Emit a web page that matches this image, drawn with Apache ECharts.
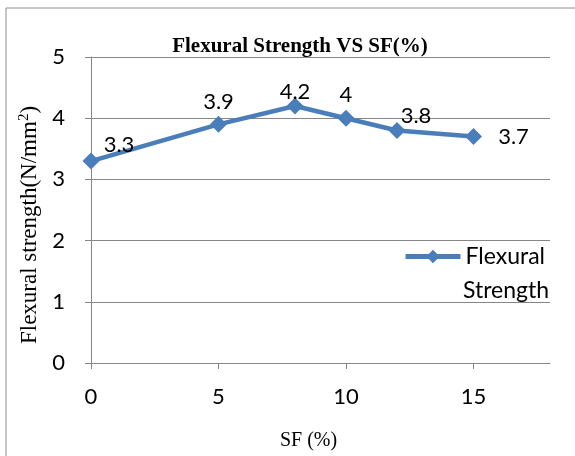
<!DOCTYPE html>
<html><head><meta charset="utf-8">
<script src="https://cdn.jsdelivr.net/npm/echarts@6/dist/echarts.min.js"></script>
<style>html,body{margin:0;padding:0;background:#fff}#c{width:575px;height:456px}</style>
</head><body><div id="c"></div>
<script>
const sfValues = [0, 5, 8, 10, 12, 15];
const strength = [3.3, 3.9, 4.2, 4, 3.8, 3.7];
const xTicks = [0, 5, 10, 15];
const yTicks = [0, 1, 2, 3, 4, 5];
const labelOffsets = [[28, 8], [0, 2], [0, 10], [0, 1], [19, 10], [40, 25]];

const chart = echarts.init(document.getElementById('c'), null, {renderer: 'canvas'});
const blue = '#4a7ebb';
const grey = '#868686';
const sans = 'Lato, "Open Sans", sans-serif';
const serif = '"Liberation Serif", "DejaVu Serif", serif';

chart.setOption({
  animation: false,
  backgroundColor: '#fff',
  graphic: [{
    type: 'rect', shape: {x: 6, y: 8, width: 700, height: 600},
    style: {fill: 'none', stroke: '#8c8c8c', lineWidth: 1}, silent: true
  }, {
    type: 'text', left: 463, top: 279, silent: true,
    style: {text: 'Strength', fontFamily: sans, fontSize: 23, fill: '#000'}
  }],
  title: {
    text: 'Flexural Strength VS SF(%)', left: 295, top: 31, textAlign: 'center',
    textStyle: {fontFamily: serif, fontWeight: 'bold', fontSize: 21, color: '#000'}
  },
  grid: {left: 91, top: 57, right: 25, bottom: 93, containLabel: false},
  legend: {
    left: 403, top: 245, padding: 0, itemWidth: 55, itemHeight: 17, itemGap: 4,
    data: ['Flexural Strength'],
    formatter: () => 'Flexural',
    lineStyle: {width: 5, color: blue},
    textStyle: {fontFamily: sans, fontSize: 23, color: '#000'}
  },
  xAxis: {
    type: 'value', min: 0, max: 18, interval: 5,
    name: 'SF (%)', nameLocation: 'middle', nameGap: 68,
    nameTextStyle: {fontFamily: serif, fontSize: 20, color: '#000', padding: [0, 24, 0, 0]},
    axisLine: {show: true, lineStyle: {color: grey, width: 1}},
    axisTick: {show: true, length: 6, lineStyle: {color: grey}, customValues: xTicks},
    axisLabel: {fontFamily: sans, fontSize: 22, color: '#000', margin: 23, customValues: xTicks},
    splitLine: {show: false}
  },
  yAxis: {
    type: 'value', min: 0, max: 5, interval: 1,
    name: '{a|Flexural strength(N/mm}{s|2}{a|)}', nameLocation: 'middle', nameGap: 44,
    nameTextStyle: {
      padding: [0, 30, 0, 0],
      rich: {
        a: {fontFamily: serif, fontSize: 23, color: '#000'},
        s: {fontFamily: serif, fontSize: 15, color: '#000', verticalAlign: 'top', padding: [0, 0, 11, 0]}
      }
    },
    axisLine: {show: true, lineStyle: {color: grey, width: 1}},
    axisTick: {show: true, length: 6, lineStyle: {color: grey}},
    axisLabel: {fontFamily: sans, fontSize: 22, color: '#000', margin: 26, customValues: yTicks},
    splitLine: {show: true, lineStyle: {color: grey, width: 1}}
  },
  series: [{
    name: 'Flexural Strength', type: 'line',
    data: sfValues.map((x, i) => ({
      value: [x, strength[i]],
      label: {offset: labelOffsets[i]}
    })),
    symbol: 'diamond', symbolSize: 17,
    lineStyle: {color: blue, width: 4.5},
    itemStyle: {color: blue},
    label: {
      show: true, position: 'top', distance: 5,
      fontFamily: sans, fontSize: 22, color: '#000',
      formatter: p => String(p.value[1])
    }
  }]
});
</script></body></html>
